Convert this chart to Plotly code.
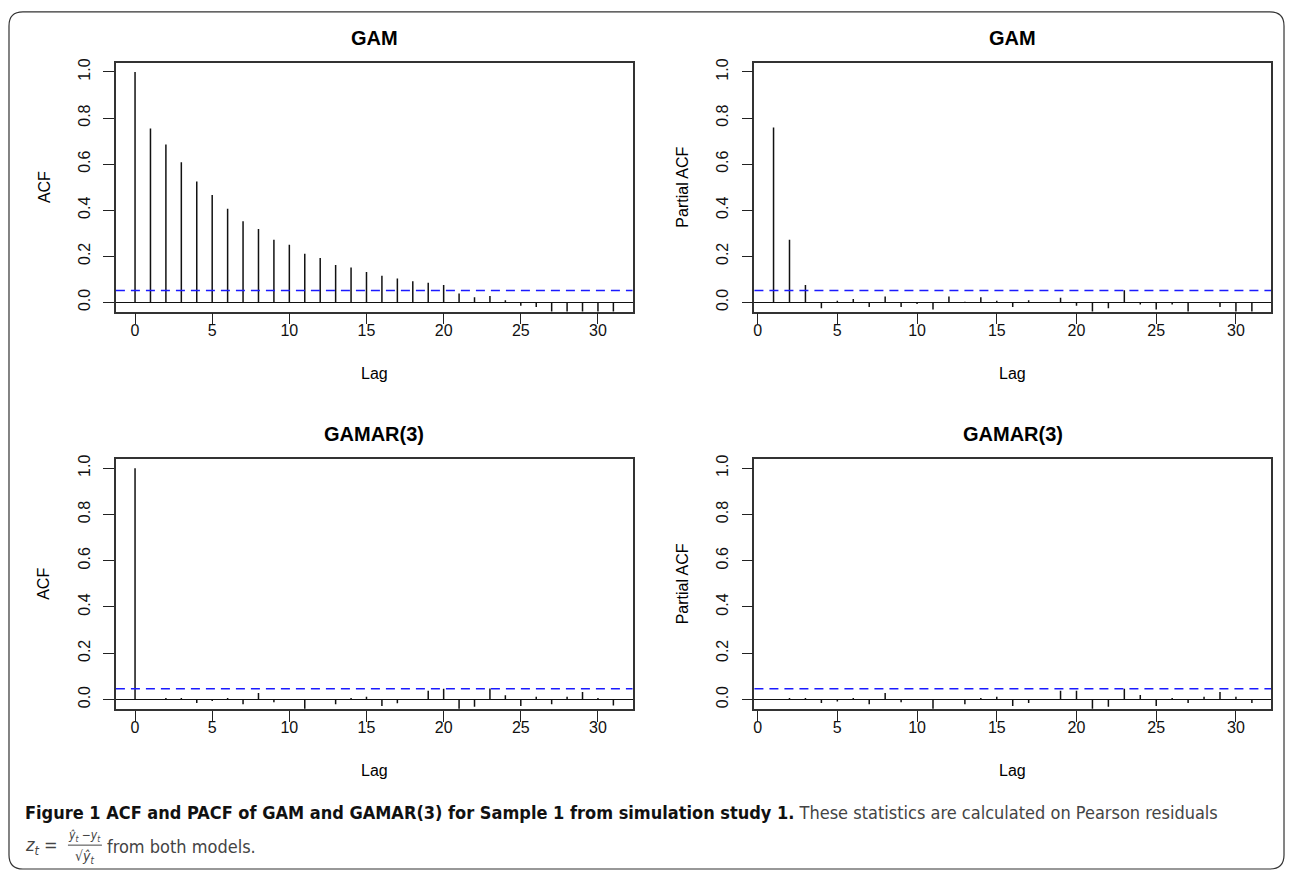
import plotly.graph_objects as go

W, H = 1292, 873

# ---------------- data ----------------
lags_acf = list(range(0, 32))
lags_pacf = list(range(1, 32))
acf_gam = [1.0, 0.755, 0.685, 0.608, 0.525, 0.466, 0.406, 0.352, 0.318, 0.272,
           0.250, 0.211, 0.193, 0.162, 0.151, 0.132, 0.116, 0.104, 0.092, 0.085,
           0.075, 0.038, 0.022, 0.028, 0.009, -0.015, -0.020, -0.050, -0.052,
           -0.048, -0.055, -0.047]
pacf_gam = [0.759, 0.272, 0.075, -0.025, 0.007, 0.015, -0.020, 0.026, -0.020,
            -0.007, -0.031, 0.026, 0.003, 0.022, 0.007, -0.020, 0.009, 0.002,
            0.020, -0.015, -0.050, -0.026, 0.053, -0.009, -0.031, -0.009,
            -0.048, 0.001, -0.020, -0.052, -0.046]
acf_gamar = [1.0, 0.002, 0.006, 0.006, -0.015, -0.006, 0.006, -0.020, 0.028,
             -0.012, 0.001, -0.050, 0.002, -0.020, 0.006, 0.012, -0.028, -0.016,
             0.001, 0.038, 0.047, -0.048, -0.031, 0.048, 0.018, -0.028, 0.012,
             -0.020, 0.012, 0.032, 0.006, -0.026]
pacf_gamar = [0.002, 0.006, 0.006, -0.015, -0.009, 0.006, -0.020, 0.028, -0.012,
              0.001, -0.050, 0.002, -0.020, 0.006, 0.012, -0.028, -0.015, 0.001,
              0.038, 0.038, -0.048, -0.031, 0.047, 0.020, -0.028, 0.006, -0.015,
              0.012, 0.032, 0.012, -0.015]
ci_gam = 0.052
ci_gamar = 0.047
panel_titles = ["GAM", "GAM", "GAMAR(3)", "GAMAR(3)"]
ylabels = ["ACF", "Partial ACF", "ACF", "Partial ACF"]
xticks = [0, 5, 10, 15, 20, 25, 30]
yticks = [0.0, 0.2, 0.4, 0.6, 0.8, 1.0]
yticklabels = ["0.0", "0.2", "0.4", "0.6", "0.8", "1.0"]

# ---------------- layout helpers ----------------
def px(x):
    return x / W

def py(y):
    return 1 - y / H

FONT = "Liberation Sans, Arial, Helvetica, sans-serif"
panels = [
    dict(lags=lags_acf, vals=acf_gam, ci=ci_gam, xr=[-1.24, 32.24], box=(115, 59, 632, 309)),
    dict(lags=lags_pacf, vals=pacf_gam, ci=ci_gam, xr=[-0.2, 32.2], box=(754, 59, 1271, 309)),
    dict(lags=lags_acf, vals=acf_gamar, ci=ci_gamar, xr=[-1.24, 32.24], box=(115, 457, 632, 708)),
    dict(lags=lags_pacf, vals=pacf_gamar, ci=ci_gamar, xr=[-0.2, 32.2], box=(754, 457, 1271, 708)),
]

fig = go.Figure()
annotations = []
shapes = []
layout_axes = {}

for i, p in enumerate(panels):
    n = i + 1
    xa = "x" if n == 1 else f"x{n}"
    ya = "y" if n == 1 else f"y{n}"
    xs, ys = [], []
    for lag, v in zip(p["lags"], p["vals"]):
        xs += [lag, lag, None]
        ys += [0, v, None]
    fig.add_trace(go.Scatter(x=xs, y=ys, mode="lines", xaxis=xa, yaxis=ya,
                             line=dict(color="#111111", width=1.5),
                             hoverinfo="skip", showlegend=False))
    x0, y0, x1, y1 = p["box"]
    layout_axes["xaxis" if n == 1 else f"xaxis{n}"] = dict(
        domain=[px(x0), px(x1)], anchor=ya, range=p["xr"], tickvals=xticks,
        ticks="outside", ticklen=11, tickwidth=1.4, tickcolor="#222",
        ticklabelstandoff=-8,
        showline=True, mirror=True, linecolor="#333", linewidth=1.6,
        showgrid=False, zeroline=False,
        tickfont=dict(family=FONT, size=16, color="#111"))
    layout_axes["yaxis" if n == 1 else f"yaxis{n}"] = dict(
        domain=[py(y1), py(y0)], anchor=xa, range=[-0.04, 1.04],
        tickvals=yticks, ticktext=yticklabels, tickangle=-90,
        ticks="outside", ticklen=11, tickwidth=1.4, tickcolor="#222",
        ticklabelstandoff=7,
        showline=True, mirror=True, linecolor="#333", linewidth=1.6,
        showgrid=False, zeroline=True, zerolinecolor="#111", zerolinewidth=1.4,
        tickfont=dict(family=FONT, size=16, color="#111"))
    # confidence line
    shapes.append(dict(type="line", xref=f"{xa} domain", yref=ya, x0=0, x1=1,
                       y0=p["ci"], y1=p["ci"],
                       line=dict(color="#1a1aff", width=1.5, dash="9px,6px")))
    # panel title
    annotations.append(dict(text=f"<b>{panel_titles[i]}</b>", xref="paper", yref="paper",
                            x=px((x0 + x1) / 2), y=py(y0 - 25), showarrow=False,
                            xanchor="center", yanchor="middle",
                            font=dict(family=FONT, size=20, color="#000")))
    # x label
    annotations.append(dict(text="Lag", xref="paper", yref="paper",
                            x=px((x0 + x1) / 2), y=py(y1 + 62), showarrow=False,
                            xanchor="center", yanchor="middle",
                            font=dict(family=FONT, size=16, color="#000")))
    # y label
    annotations.append(dict(text=ylabels[i], xref="paper", yref="paper",
                            x=px(x0 - 72), y=py((y0 + y1) / 2), showarrow=False,
                            textangle=-90, xanchor="center", yanchor="middle",
                            font=dict(family=FONT, size=16, color="#000")))

# ---------------- frame ----------------
r = 14
L, T, R, B = 8, 8, 1284, 869
path = (f"M {px(L)},{py(B - r)} L {px(L)},{py(T + r)} Q {px(L)},{py(T)} {px(L + r)},{py(T)} "
        f"L {px(R - r)},{py(T)} Q {px(R)},{py(T)} {px(R)},{py(T + r)} "
        f"L {px(R)},{py(B - r)} Q {px(R)},{py(B)} {px(R - r)},{py(B)} "
        f"L {px(L + r)},{py(B)} Q {px(L)},{py(B)} {px(L)},{py(B - r)} Z")
shapes.append(dict(type="path", xref="paper", yref="paper", path=path,
                   line=dict(color="#333", width=1.2)))

# ---------------- caption ----------------
CAP = "Liberation Sans Narrow, DejaVu Sans Condensed, Arial Narrow, sans-serif"
annotations.append(dict(
    text=("<b>Figure 1 ACF and PACF of GAM and GAMAR(3) for Sample 1 from simulation study 1.</b>"
          "<span style='color:#444'> These statistics are calculated on Pearson residuals</span>"),
    xref="paper", yref="paper", x=px(22), y=py(812), xanchor="left", yanchor="middle",
    showarrow=False, font=dict(family=CAP, size=18, color="#111")))
annotations.append(dict(text="<i>z</i><sub><i>t</i></sub> =", xref="paper", yref="paper",
                        x=px(22), y=py(846), xanchor="left", yanchor="middle",
                        showarrow=False, font=dict(family=CAP, size=18, color="#444")))
annotations.append(dict(text="<i>ŷ</i><sub><i>t</i></sub> −<i>y</i><sub><i>t</i></sub>",
                        xref="paper", yref="paper", x=px(84), y=py(836),
                        xanchor="center", yanchor="middle", showarrow=False,
                        font=dict(family=CAP, size=12, color="#444")))
annotations.append(dict(text="√<i>ŷ</i><sub><i>t</i></sub>",
                        xref="paper", yref="paper", x=px(84), y=py(857),
                        xanchor="center", yanchor="middle", showarrow=False,
                        font=dict(family=CAP, size=14, color="#444")))
shapes.append(dict(type="line", xref="paper", yref="paper", x0=px(67), x1=px(101),
                   y0=py(845), y1=py(845), line=dict(color="#444", width=1)))
annotations.append(dict(text="from both models.", xref="paper", yref="paper",
                        x=px(104), y=py(846), xanchor="left", yanchor="middle",
                        showarrow=False, font=dict(family=CAP, size=18, color="#444")))

fig.update_layout(width=W, height=H, margin=dict(l=0, r=0, t=0, b=0),
                  paper_bgcolor="white", plot_bgcolor="white",
                  annotations=annotations, shapes=shapes, showlegend=False,
                  **layout_axes)
fig.write_html("out.html")
